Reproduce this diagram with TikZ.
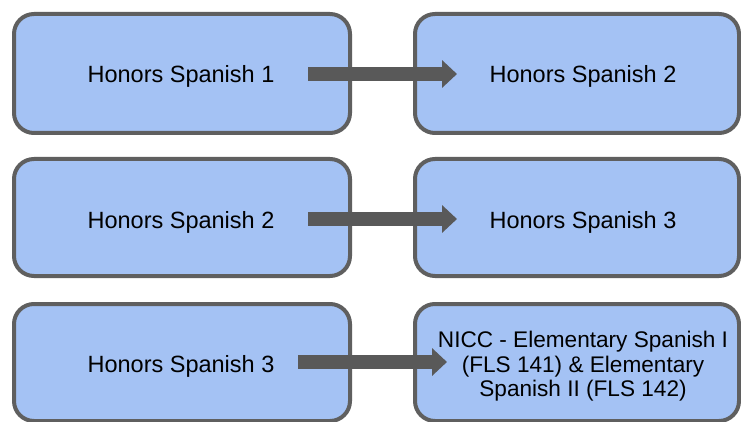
\documentclass[tikz,border=0pt]{standalone}
\usepackage{fontspec}
\setmainfont{Liberation Sans}
\usetikzlibrary{arrows.meta}
\definecolor{boxfill}{HTML}{A4C2F4}
\definecolor{boxline}{HTML}{5F5F5F}
\definecolor{arrowcol}{HTML}{595959}
\tikzset{
  course/.style={draw=boxline, fill=boxfill, line width=4pt, rounded corners=20pt,
    rectangle, outer sep=0pt, inner sep=0pt},
  lbl/.style={font=\fontsize{23.5}{24.5}\selectfont, text=black, inner sep=0pt},
  smalllbl/.style={font=\fontsize{22.6}{24.5}\selectfont, text=black, inner sep=0pt},
  bigarrow/.style={draw=arrowcol, line width=14pt,
    -{Triangle[length=15pt, width=27pt]}}
}
\begin{document}
\begin{tikzpicture}[x=1pt, y=-1pt]
\useasboundingbox[fill=white] (0,0) rectangle (741,422);
% boxes
\node[course, minimum width=336pt, minimum height=119pt] (a1) at (182,73.5) {};
\node[course, minimum width=324pt, minimum height=119pt] (b1) at (577,73.5) {};
\node[course, minimum width=336pt, minimum height=117pt] (a2) at (182,217.5) {};
\node[course, minimum width=324pt, minimum height=117pt] (b2) at (577,217.5) {};
\node[course, minimum width=336pt, minimum height=117pt] (a3) at (182,362.5) {};
\node[course, minimum width=324pt, minimum height=117pt] (b3) at (577,362.5) {};
% labels
\node[lbl, anchor=base] (ta1) at (181,83) {Honors Spanish 1};
\node[lbl, anchor=base] (tb1) at (583,83) {Honors Spanish 2};
\node[lbl, anchor=base] (ta2) at (181,228) {Honors Spanish 2};
\node[lbl, anchor=base] (tb2) at (583,228) {Honors Spanish 3};
\node[lbl, anchor=base] (ta3) at (181,372) {Honors Spanish 3};
\node[smalllbl, align=center, anchor=center] (tb3) at (583,366.5)
  {NICC - Elementary Spanish I\\(FLS 141) \& Elementary\\Spanish II (FLS 142)};
% arrows
\draw[bigarrow] ([xshift=-42pt,yshift=-0.5pt]a1.east) -- ([xshift=42pt,yshift=-0.5pt]b1.west);
\draw[bigarrow] ([xshift=-42pt,yshift=-1.5pt]a2.east) -- ([xshift=42pt,yshift=-1.5pt]b2.west);
\draw[bigarrow] ([xshift=-52pt,yshift=0.5pt]a3.east) -- ([xshift=32pt,yshift=0.5pt]b3.west);
\end{tikzpicture}
\end{document}
